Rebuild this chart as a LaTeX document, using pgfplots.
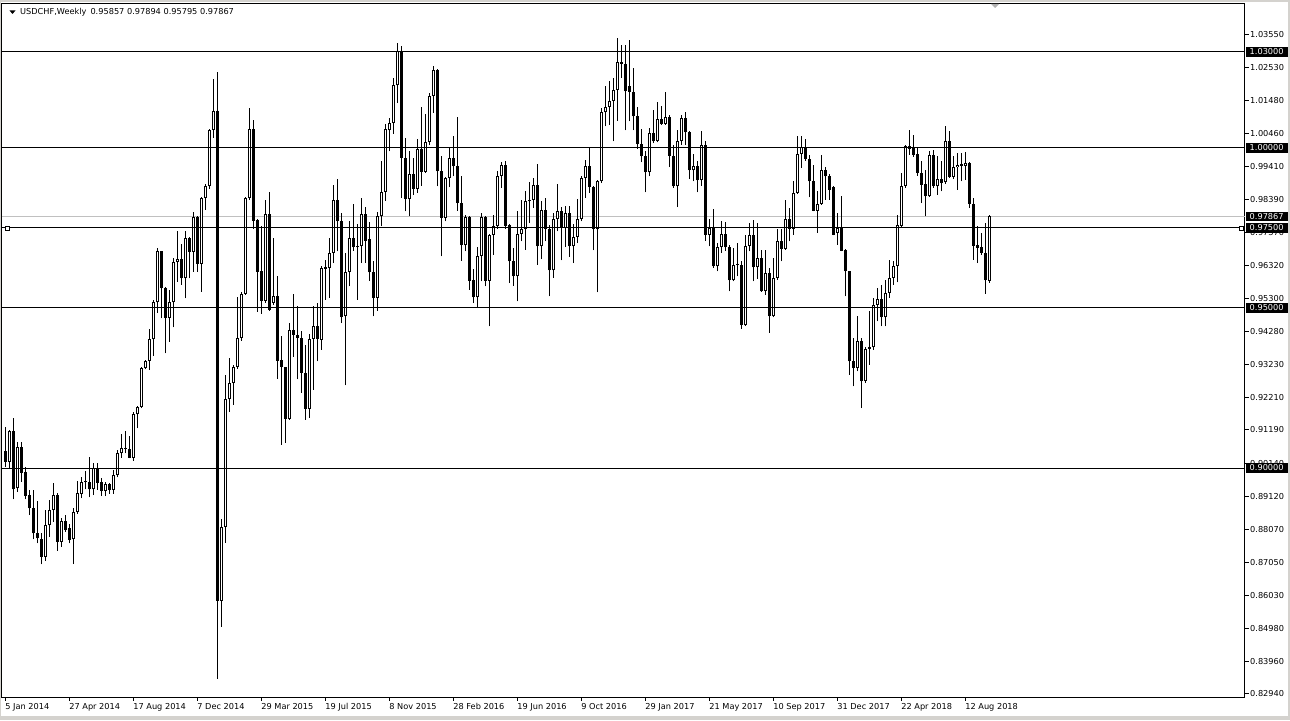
\documentclass[border=0pt]{standalone}
\usepackage{fontspec}
\setmainfont{DejaVu Sans}
\usepackage{pgfplots}
\usepackage{pgfplotstable}
\pgfplotsset{compat=1.18}
\definecolor{bidgray}{RGB}{192,192,192}
\definecolor{winedge}{RGB}{212,210,206}
\newcommand{\lab}{\fontsize{8.2}{9.5}\selectfont}
\tikzset{
  hl/.style={fill=black, text=white, anchor=west, font=\lab, inner xsep=3pt, inner ysep=1.5pt, minimum width=42pt, xshift=0.5pt},
  endbox/.style={draw=black, fill=white, line width=0.8pt, inner sep=0pt, minimum size=4pt}
}

% weekly USDCHF candles, index 0 = week of 5 Jan 2014
\pgfplotstableread{
i o h l c
0 0.90542 0.91292 0.90042 0.90198
1 0.90198 0.91187 0.89990 0.91167
2 0.91156 0.91552 0.89021 0.89333
3 0.89365 0.90823 0.89260 0.90646
4 0.90656 0.90802 0.89573 0.89854
5 0.89885 0.90042 0.89021 0.89135
6 0.89156 0.89313 0.88531 0.88740
7 0.88740 0.89313 0.87771 0.87958
8 0.87979 0.88969 0.87646 0.87802
9 0.87792 0.87958 0.86990 0.87229
10 0.87229 0.88688 0.87094 0.88208
11 0.88208 0.89000 0.87854 0.88688
12 0.88688 0.89521 0.88323 0.89156
13 0.89156 0.89208 0.87417 0.87698
14 0.87698 0.88427 0.87542 0.88344
15 0.88344 0.88531 0.88010 0.88063
16 0.88115 0.88250 0.87646 0.87750
17 0.87771 0.88740 0.87000 0.88635
18 0.88635 0.89604 0.88563 0.89208
19 0.89188 0.89708 0.89052 0.89573
20 0.89552 0.89906 0.89333 0.89573
21 0.89573 0.90354 0.89083 0.89333
22 0.89333 0.90146 0.89156 0.90010
23 0.90010 0.90146 0.89313 0.89542
24 0.89563 0.89677 0.89125 0.89281
25 0.89281 0.89573 0.89125 0.89500
26 0.89500 0.89542 0.89188 0.89313
27 0.89313 0.89938 0.89188 0.89781
28 0.89781 0.90563 0.89708 0.90458
29 0.90458 0.91063 0.90323 0.90615
30 0.90583 0.91167 0.90458 0.90635
31 0.90594 0.91000 0.90302 0.90323
32 0.90323 0.91760 0.90229 0.91677
33 0.91677 0.91938 0.91240 0.91906
34 0.91906 0.93167 0.91865 0.93115
35 0.93115 0.93375 0.93083 0.93354
36 0.93354 0.94333 0.93063 0.94021
37 0.94021 0.95250 0.93510 0.95177
38 0.95177 0.96865 0.94854 0.96771
39 0.96771 0.96792 0.94677 0.95615
40 0.95635 0.95667 0.93583 0.94698
41 0.94698 0.95563 0.93948 0.95177
42 0.95177 0.96552 0.94396 0.96438
43 0.96438 0.97406 0.95823 0.96521
44 0.96521 0.97000 0.95719 0.95927
45 0.95927 0.97417 0.95302 0.97177
46 0.97177 0.97229 0.95927 0.96760
47 0.96760 0.98010 0.96135 0.97833
48 0.97833 0.97875 0.96135 0.96375
49 0.96375 0.98460 0.95510 0.98427
50 0.98438 0.98875 0.98075 0.98825
51 0.98825 1.00600 0.98725 1.00575
52 1.00575 1.02163 1.00325 1.01163
53 1.01163 1.02375 0.83413 0.85850
54 0.85850 0.88413 0.85038 0.88163
55 0.88163 0.92913 0.87663 0.92163
56 0.92163 0.93450 0.91750 0.92650
57 0.92650 0.93225 0.91975 0.93163
58 0.93163 0.95350 0.93100 0.94075
59 0.94075 0.95500 0.93975 0.95450
60 0.95450 0.98475 0.95413 0.98450
61 0.98450 1.01250 0.98375 1.00600
62 1.00600 1.00875 0.97475 0.97725
63 0.97750 0.97788 0.94888 0.96138
64 0.96163 0.97575 0.94825 0.95225
65 0.95225 0.98375 0.95163 0.97938
66 0.97938 0.98625 0.94913 0.94950
67 0.95163 0.97188 0.95100 0.95375
68 0.95375 0.96000 0.92788 0.93350
69 0.93375 0.94125 0.90725 0.93163
70 0.93163 0.93163 0.90788 0.91538
71 0.91538 0.94538 0.91513 0.94325
72 0.94325 0.95450 0.93475 0.94163
73 0.94163 0.95050 0.92770 0.94063
74 0.94063 0.94292 0.92344 0.92969
75 0.92969 0.93854 0.91510 0.91844
76 0.91844 0.94188 0.91563 0.94042
77 0.94042 0.95052 0.92448 0.94427
78 0.94427 0.95156 0.93333 0.94042
79 0.94010 0.96302 0.93698 0.96250
80 0.96229 0.96510 0.95260 0.96271
81 0.96250 0.97188 0.95313 0.96719
82 0.96719 0.98854 0.96406 0.98385
83 0.98385 0.99042 0.96771 0.97708
84 0.97729 0.97969 0.94531 0.94708
85 0.94740 0.96719 0.92583 0.96125
86 0.96125 0.97729 0.95677 0.97188
87 0.97188 0.98260 0.96792 0.96896
88 0.96948 0.97625 0.95260 0.96896
89 0.96927 0.98438 0.96406 0.97938
90 0.97938 0.98156 0.96406 0.97104
91 0.97167 0.97688 0.95854 0.96115
92 0.96125 0.96479 0.94740 0.95313
93 0.95313 0.98000 0.94917 0.97865
94 0.97865 0.99583 0.97552 0.98625
95 0.98625 1.00750 0.98354 1.00594
96 1.00552 1.00938 0.99896 1.00781
97 1.00781 1.02188 1.00438 1.01958
98 1.01958 1.03281 1.01406 1.03021
99 1.03021 1.03177 0.98438 0.99688
100 0.99688 1.00313 0.98021 0.98406
101 0.98406 0.99896 0.97865 0.99198
102 0.99198 0.99688 0.98542 0.98719
103 0.98719 1.00281 0.98594 0.99969
104 0.99969 1.01271 0.98823 0.99250
105 0.99250 1.01063 0.99219 1.00188
106 1.00188 1.01719 1.00083 1.01635
107 1.01635 1.02573 1.01094 1.02448
108 1.02448 1.02479 0.98802 0.99271
109 0.99292 0.99740 0.96615 0.97813
110 0.97813 0.99083 0.97708 0.99063
111 0.99063 1.00031 0.98771 0.99688
112 0.99688 1.00385 0.99115 0.99427
113 0.99448 1.00958 0.98042 0.98281
114 0.98281 0.99135 0.96479 0.96958
115 0.96958 0.97896 0.96771 0.97844
116 0.97844 0.97865 0.95573 0.95854
117 0.95885 0.96229 0.95156 0.95333
118 0.95333 0.96896 0.95000 0.96635
119 0.96635 0.97969 0.95833 0.97844
120 0.97844 0.97865 0.95677 0.95854
121 0.95854 0.97313 0.94427 0.97292
122 0.97292 0.97917 0.96667 0.97552
123 0.97552 0.99292 0.97479 0.99135
124 0.99135 0.99552 0.98750 0.99479
125 0.99479 0.99583 0.97469 0.97573
126 0.97604 0.97625 0.95781 0.96458
127 0.96479 0.96875 0.95698 0.95990
128 0.95990 0.98042 0.95208 0.97313
129 0.97313 0.98385 0.97083 0.97469
130 0.97469 0.98667 0.96823 0.98333
131 0.98333 0.98948 0.97656 0.98385
132 0.98385 0.99063 0.98125 0.98854
133 0.98854 0.99510 0.96354 0.96927
134 0.96927 0.98333 0.96531 0.98073
135 0.98073 0.98438 0.97083 0.97469
136 0.97469 0.97604 0.95365 0.96177
137 0.96177 0.97969 0.95938 0.97781
138 0.97781 0.98875 0.97396 0.98021
139 0.98021 0.98156 0.96490 0.97500
140 0.97500 0.98198 0.96906 0.97969
141 0.97969 0.98198 0.96594 0.96927
142 0.96927 0.97635 0.96406 0.97219
143 0.97219 0.98406 0.97031 0.97781
144 0.97781 0.99115 0.97708 0.99063
145 0.99063 0.99635 0.98438 0.99427
146 0.99427 1.00000 0.98594 0.98781
147 0.98781 0.98823 0.96802 0.97469
148 0.97469 0.98990 0.95490 0.98958
149 0.98958 1.01250 0.98906 1.01115
150 1.01115 1.01948 1.00677 1.01281
151 1.01281 1.02083 1.00729 1.01479
152 1.01479 1.02188 1.00208 1.01823
153 1.01823 1.03438 1.00854 1.02688
154 1.02688 1.03229 1.02188 1.02625
155 1.02625 1.03229 1.00552 1.01771
156 1.01948 1.03365 1.00833 1.01760
157 1.01750 1.02500 1.00552 1.00990
158 1.01010 1.01281 0.99969 1.00125
159 1.00135 1.00594 0.99552 0.99740
160 0.99740 0.99896 0.98615 0.99240
161 0.99240 1.00625 0.99115 1.00469
162 1.00469 1.01198 1.00156 1.00208
163 1.00208 1.01427 1.00177 1.00906
164 1.00906 1.01323 1.00729 1.00760
165 1.00760 1.01740 1.00729 1.00969
166 1.00969 1.01042 0.99406 0.99760
167 0.99760 1.00104 0.98750 0.98802
168 0.98802 1.00573 0.98156 1.00208
169 1.00208 1.01042 1.00104 1.00938
170 1.00938 1.01115 1.00104 1.00490
171 1.00490 1.00521 0.99031 0.99302
172 0.99302 0.99823 0.98958 0.99448
173 0.99448 0.99583 0.98615 0.98990
174 0.98990 1.00520 0.98823 1.00104
175 1.00104 1.00229 0.97104 0.97292
176 0.97292 0.97781 0.96927 0.97500
177 0.97500 0.98104 0.96250 0.96302
178 0.96302 0.97031 0.96146 0.96896
179 0.96896 0.97729 0.96719 0.97323
180 0.97323 0.97677 0.96792 0.96896
181 0.96896 0.96958 0.95521 0.95865
182 0.95865 0.96875 0.95833 0.96354
183 0.96354 0.97031 0.95990 0.96385
184 0.96354 0.96458 0.94354 0.94458
185 0.94458 0.97292 0.94448 0.96948
186 0.96948 0.97656 0.96771 0.97292
187 0.97292 0.97760 0.95833 0.96271
188 0.96271 0.97656 0.95917 0.96563
189 0.96563 0.96823 0.95500 0.95521
190 0.95521 0.96823 0.95417 0.96094
191 0.96094 0.96250 0.94219 0.94740
192 0.94740 0.96563 0.94708 0.95938
193 0.95938 0.97479 0.95885 0.97104
194 0.97104 0.97479 0.96458 0.96844
195 0.96844 0.98385 0.96823 0.97781
196 0.97781 0.98125 0.97083 0.97469
197 0.97469 0.98958 0.97292 0.98594
198 0.98594 1.00365 0.98563 0.99813
199 0.99813 1.00365 0.99375 1.00021
200 1.00021 1.00292 0.99604 0.99656
201 0.99656 0.99792 0.98458 0.98958
202 0.98979 0.99479 0.98021 0.98042
203 0.98042 0.98646 0.97344 0.98250
204 0.98250 0.99792 0.98229 0.99323
205 0.99323 0.99396 0.98385 0.99115
206 0.99135 0.99188 0.98385 0.98698
207 0.98771 0.98802 0.97271 0.97292
208 0.97344 0.97969 0.96979 0.97500
209 0.97500 0.98490 0.96771 0.96792
210 0.96823 0.96854 0.95365 0.96146
211 0.96146 0.96167 0.92917 0.93333
212 0.93354 0.94063 0.92552 0.93125
213 0.93125 0.94740 0.93021 0.93979
214 0.93979 0.94063 0.91875 0.92708
215 0.92708 0.93771 0.92656 0.93729
216 0.93729 0.94896 0.93229 0.93771
217 0.93771 0.95313 0.93698 0.95104
218 0.95104 0.95625 0.94583 0.95292
219 0.95292 0.95708 0.94427 0.94708
220 0.94708 0.95885 0.94427 0.95469
221 0.95469 0.96510 0.95313 0.95938
222 0.95938 0.96458 0.95729 0.96323
223 0.96323 0.97917 0.95800 0.97604
224 0.97573 0.99219 0.97500 0.98823
225 0.98823 1.00104 0.98750 1.00073
226 0.99969 1.00573 0.99792 1.00073
227 1.00000 1.00417 0.99719 0.99792
228 0.99823 1.00000 0.99135 0.99219
229 0.99219 0.99583 0.98281 0.98854
230 0.98875 0.99323 0.97865 0.98490
231 0.98490 0.99896 0.98469 0.99792
232 0.99792 0.99948 0.98750 0.98802
233 0.98802 0.99740 0.98542 0.99031
234 0.99031 0.99583 0.98646 0.98906
235 0.98927 1.00698 0.98885 1.00208
236 1.00208 1.00521 0.99063 0.99094
237 0.99094 0.99740 0.99031 0.99396
238 0.99396 0.99844 0.98698 0.99479
239 0.99448 0.99844 0.98958 0.99500
240 0.99448 0.99865 0.99010 0.99531
241 0.99531 0.99552 0.98125 0.98260
242 0.98260 0.98438 0.96510 0.96948
243 0.96979 0.97573 0.96406 0.96875
244 0.96896 0.97344 0.96667 0.96719
245 0.96719 0.97656 0.95448 0.95865
246 0.95857 0.97894 0.95795 0.97867
}\candles

\begin{document}
\begin{tikzpicture}
\useasboundingbox (0,0) rectangle (1290pt,720pt);
\fill[white] (0,0) rectangle (1290pt,720pt);
% window edge
\fill[winedge] (0,0) rectangle (1290pt,4pt);
\fill[winedge] (0,0) rectangle (1pt,720pt);
\fill[winedge] (1288pt,0) rectangle (1290pt,720pt);
\fill[winedge] (0,718pt) rectangle (1290pt,720pt);
\begin{axis}[
  at={(2pt,23pt)}, anchor=south west, scale only axis,
  width=1243pt, height=693pt,
  xmin=-0.8, xmax=309.95, ymin=0.82844, ymax=1.045,
  axis line style={black, line width=1pt},
  tick style={black, line width=1pt},
  tick align=outside, major tick length=4pt,
  xtick pos=left, ytick pos=right, yticklabel pos=right,
  xtick={0,16,...,240},
  xticklabels={5 Jan 2014,27 Apr 2014,17 Aug 2014,7 Dec 2014,29 Mar 2015,19 Jul 2015,8 Nov 2015,28 Feb 2016,19 Jun 2016,9 Oct 2016,29 Jan 2017,21 May 2017,10 Sep 2017,31 Dec 2017,22 Apr 2018,12 Aug 2018},
  x tick label style={anchor=north west, font=\lab, inner sep=0pt, yshift=-2pt},
  ytick={0.8294,0.8396,0.8498,0.8603,0.8705,0.8807,0.8912,0.9014,0.9119,0.9221,0.9323,0.9428,0.9530,0.9632,0.9737,0.9839,0.9941,1.0046,1.0148,1.0253,1.0355},
  yticklabels={0.82940,0.83960,0.84980,0.86030,0.87050,0.88070,0.89120,0.90140,0.91190,0.92210,0.93230,0.94280,0.95300,0.96320,0.97370,0.98390,0.99410,1.00460,1.01480,1.02530,1.03550},
  y tick label style={anchor=west, font=\lab, inner sep=0pt, xshift=1pt},
  clip mode=individual,
]
% current bid line, behind the candles
\addplot[bidgray, line width=1pt, forget plot] coordinates {(-0.8,0.97867) (309.95,0.97867)};
% wicks
\addplot[draw=none, mark=none, forget plot,
  error bars/.cd, y dir=plus, y explicit, error mark=none,
  error bar style={draw=black, line width=1pt}]
  table[x=i, y=l, y error plus expr={\thisrow{h}-\thisrow{l}}] {\candles};
% bodies
\addplot[draw=none, mark=none, forget plot,
  error bars/.cd, y dir=plus, y explicit, error mark=none,
  error bar style={draw=black, line width=3pt}]
  table[x=i, y expr={min(\thisrow{o},\thisrow{c})},
        y error plus expr={max(abs(\thisrow{c}-\thisrow{o}),0.0003)}] {\candles};
% hollow inside of the up candles
\addplot[draw=none, mark=none, forget plot,
  error bars/.cd, y dir=plus, y explicit, error mark=none,
  error bar style={draw=white, line width=1pt}]
  table[x=i, y expr={min(\thisrow{o},\thisrow{c})+0.0003125},
        y error plus expr={(\thisrow{c}>\thisrow{o})*max(abs(\thisrow{c}-\thisrow{o})-0.000625,0)}] {\candles};
% horizontal levels
\addplot[black, line width=1pt, forget plot] coordinates {(-0.8,1.03) (309.95,1.03)};
\addplot[black, line width=1pt, forget plot] coordinates {(-0.8,1.00) (309.95,1.00)};
\addplot[black, line width=1pt, forget plot] coordinates {(-0.8,0.975) (309.95,0.975)};
\addplot[black, line width=1pt, forget plot] coordinates {(-0.8,0.95) (309.95,0.95)};
\addplot[black, line width=1pt, forget plot] coordinates {(-0.8,0.90) (309.95,0.90)};
\node[endbox] at (axis cs:0.45,0.975) {};
\node[endbox] at (axis cs:308.95,0.975) {};
% highlighted price labels
\node[hl] at (axis cs:309.95,1.03) {1.03000};
\node[hl] at (axis cs:309.95,1.00) {1.00000};
\node[hl] at (axis cs:309.95,0.97867) {0.97867};
\node[hl] at (axis cs:309.95,0.975) {0.97500};
\node[hl] at (axis cs:309.95,0.95) {0.95000};
\node[hl] at (axis cs:309.95,0.90) {0.90000};
\end{axis}
% header
\fill[black] (9.5pt,709.5pt) -- (15.5pt,709.5pt) -- (12.5pt,706pt) -- cycle;
\node[anchor=west, font=\lab, inner sep=0pt] at (20pt,707.5pt) {USDCHF,Weekly\hspace{4pt}0.95857 0.97894 0.95795 0.97867};
% chart shift marker
\fill[gray!60] (991pt,716pt) -- (999pt,716pt) -- (995pt,712pt) -- cycle;
\end{tikzpicture}
\end{document}
